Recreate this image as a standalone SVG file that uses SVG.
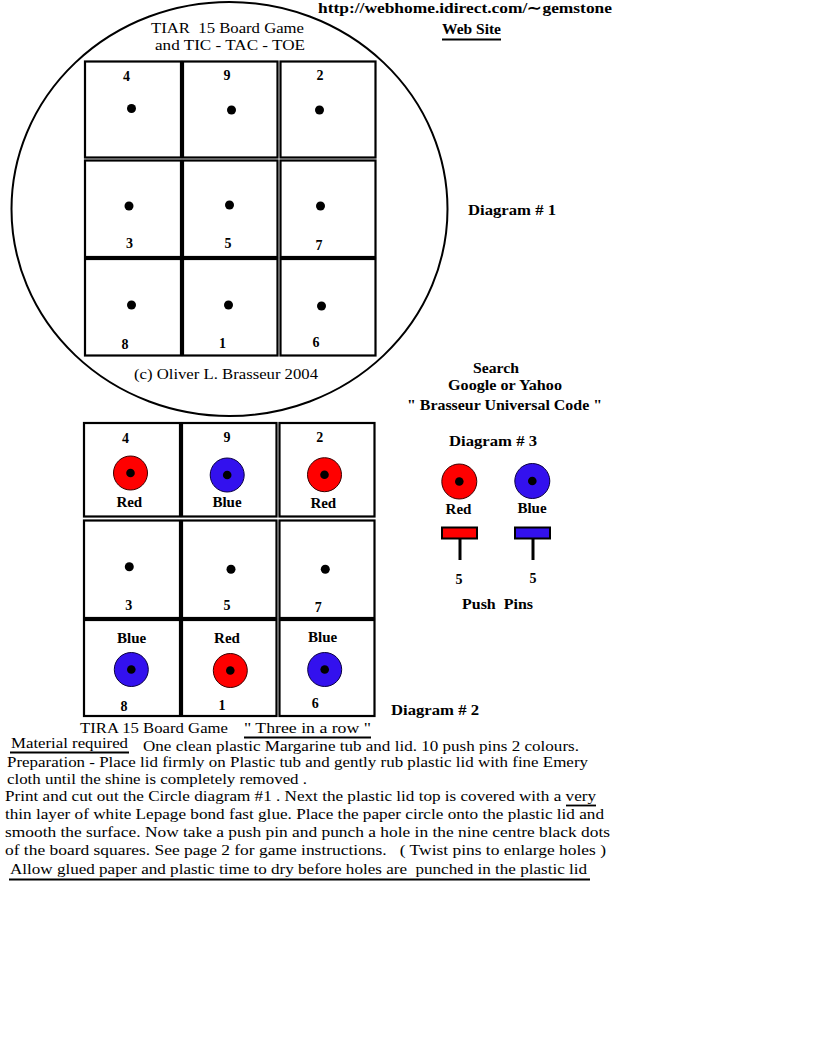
<svg xmlns="http://www.w3.org/2000/svg" width="816" height="1056" viewBox="0 0 816 1056">
<style>
text{font-family:"Liberation Serif","Times New Roman",serif;fill:#000;white-space:pre}
.t{font-size:15px}
.b{font-size:15px;font-weight:bold}
.n{font-size:14px;font-weight:bold;text-anchor:middle}
.lab{font-size:15px;font-weight:bold;text-anchor:middle}
.cell{fill:none;stroke:#000;stroke-width:2.2}
.dot{fill:#000}
.red{fill:#ff0000;stroke:#3a0000;stroke-width:1}
.blue{fill:#3311ee;stroke:#0a0040;stroke-width:1}
.ul{stroke:#000;stroke-width:1.8}
</style>
<rect width="816" height="1056" fill="#fff"/>

<g id="header">
<text class="b" x="318" y="13" textLength="294" lengthAdjust="spacingAndGlyphs">http://webhome.idirect.com/∼gemstone</text>
<text class="b" x="442" y="34" textLength="59" lengthAdjust="spacingAndGlyphs">Web Site</text>
<line class="ul" x1="442" y1="39.5" x2="501" y2="39.5"/>
</g>

<g id="diagram1">
<ellipse cx="229.5" cy="209" rx="218" ry="207" fill="none" stroke="#000" stroke-width="2"/>
<text class="t" x="151" y="33" textLength="153" lengthAdjust="spacingAndGlyphs">TIAR  15 Board Game</text>
<text class="t" x="155" y="50" textLength="150" lengthAdjust="spacingAndGlyphs">and TIC - TAC - TOE</text>
<g id="d1-cells">
<rect class="cell" x="85" y="61.5" width="96" height="96"/>
<rect class="cell" x="183" y="61.5" width="94.5" height="96"/>
<rect class="cell" x="280.5" y="61.5" width="95" height="96"/>
<rect class="cell" x="85" y="160.5" width="96" height="96.5"/>
<rect class="cell" x="183" y="160.5" width="94.5" height="96.5"/>
<rect class="cell" x="280.5" y="160.5" width="95" height="96.5"/>
<rect class="cell" x="85" y="259" width="96" height="96.5"/>
<rect class="cell" x="183" y="259" width="94.5" height="96.5"/>
<rect class="cell" x="280.5" y="259" width="95" height="96.5"/>
</g>
<g id="d1-dots">
<circle class="dot" cx="131.5" cy="108.5" r="4.5"/>
<circle class="dot" cx="231.5" cy="110" r="4.5"/>
<circle class="dot" cx="319.5" cy="110" r="4.5"/>
<circle class="dot" cx="129" cy="206" r="4.5"/>
<circle class="dot" cx="229.5" cy="205" r="4.5"/>
<circle class="dot" cx="320.5" cy="206" r="4.5"/>
<circle class="dot" cx="131.5" cy="305" r="4.5"/>
<circle class="dot" cx="228.5" cy="305" r="4.5"/>
<circle class="dot" cx="321.5" cy="306" r="4.5"/>
</g>
<g id="d1-numbers">
<text class="n" x="126.5" y="81">4</text>
<text class="n" x="227" y="80">9</text>
<text class="n" x="320" y="80">2</text>
<text class="n" x="129.5" y="248">3</text>
<text class="n" x="228" y="247.5">5</text>
<text class="n" x="319" y="250">7</text>
<text class="n" x="125" y="349">8</text>
<text class="n" x="222.5" y="348">1</text>
<text class="n" x="316" y="346.5">6</text>
</g>
<text class="t" x="134" y="379" textLength="184" lengthAdjust="spacingAndGlyphs">(c) Oliver L. Brasseur 2004</text>
</g>

<g id="label-diagram1">
<text class="b" x="468" y="215" textLength="88" lengthAdjust="spacingAndGlyphs">Diagram # 1</text>
</g>

<g id="search">
<text class="b" x="473" y="373" textLength="46" lengthAdjust="spacingAndGlyphs">Search</text>
<text class="b" x="448" y="390" textLength="114" lengthAdjust="spacingAndGlyphs">Google or Yahoo</text>
<text class="b" x="407" y="410" textLength="195" lengthAdjust="spacingAndGlyphs">" Brasseur Universal Code "</text>
</g>

<g id="diagram2">
<g id="d2-cells">
<rect class="cell" x="84" y="423" width="96" height="93.5"/>
<rect class="cell" x="182" y="423" width="94.5" height="93.5"/>
<rect class="cell" x="279.5" y="423" width="95" height="93.5"/>
<rect class="cell" x="84" y="520.5" width="96" height="97.5"/>
<rect class="cell" x="182" y="520.5" width="94.5" height="97.5"/>
<rect class="cell" x="279.5" y="520.5" width="95" height="97.5"/>
<rect class="cell" x="84" y="620" width="96" height="96"/>
<rect class="cell" x="182" y="620" width="94.5" height="96"/>
<rect class="cell" x="279.5" y="620" width="95" height="96"/>
</g>
<g id="d2-pins">
<circle class="red" cx="130.5" cy="473" r="17"/><circle class="dot" cx="130.5" cy="473" r="4.3"/>
<circle class="blue" cx="227.2" cy="475" r="17"/><circle class="dot" cx="227.2" cy="475" r="4.3"/>
<circle class="red" cx="324.5" cy="474.7" r="17"/><circle class="dot" cx="324.5" cy="474.7" r="4.3"/>
<circle class="dot" cx="129.3" cy="566.7" r="4.5"/>
<circle class="dot" cx="231" cy="569.3" r="4.5"/>
<circle class="dot" cx="325.3" cy="569.3" r="4.5"/>
<circle class="blue" cx="131.3" cy="669.5" r="17"/><circle class="dot" cx="131.3" cy="669.5" r="4.3"/>
<circle class="red" cx="230.3" cy="670.5" r="17"/><circle class="dot" cx="230.3" cy="670.5" r="4.3"/>
<circle class="blue" cx="324.7" cy="669.5" r="17"/><circle class="dot" cx="324.7" cy="669.5" r="4.3"/>
</g>
<g id="d2-text">
<text class="n" x="125.5" y="442.7">4</text>
<text class="n" x="227" y="441.7">9</text>
<text class="n" x="319.7" y="442.3">2</text>
<text class="lab" x="129.3" y="507.3">Red</text>
<text class="lab" x="227" y="506.7">Blue</text>
<text class="lab" x="323.3" y="508.3">Red</text>
<text class="n" x="128.7" y="610">3</text>
<text class="n" x="227" y="609.7">5</text>
<text class="n" x="318.3" y="611.7">7</text>
<text class="lab" x="131.7" y="643.3">Blue</text>
<text class="lab" x="227" y="643.3">Red</text>
<text class="lab" x="322.7" y="642.3">Blue</text>
<text class="n" x="124" y="710.7">8</text>
<text class="n" x="222" y="710">1</text>
<text class="n" x="315.3" y="708.3">6</text>
</g>
</g>

<g id="label-diagram2">
<text class="b" x="391" y="715" textLength="88" lengthAdjust="spacingAndGlyphs">Diagram # 2</text>
</g>

<g id="diagram3">
<text class="b" x="449" y="446" textLength="88" lengthAdjust="spacingAndGlyphs">Diagram # 3</text>
<circle class="red" cx="459.3" cy="481.5" r="17.5"/><circle class="dot" cx="459.3" cy="481.5" r="4.3"/>
<circle class="blue" cx="532.3" cy="481" r="17.5"/><circle class="dot" cx="532.3" cy="481" r="4.3"/>
<text class="lab" x="458.5" y="514">Red</text>
<text class="lab" x="532" y="513">Blue</text>
<rect x="442" y="527.5" width="35" height="11" fill="#ff0000" stroke="#000" stroke-width="2"/>
<rect x="515" y="527.5" width="35" height="11" fill="#3311ee" stroke="#000" stroke-width="2"/>
<line x1="460" y1="539" x2="460" y2="560" stroke="#000" stroke-width="3"/>
<line x1="533" y1="539" x2="533" y2="560" stroke="#000" stroke-width="3"/>
<text class="n" x="459" y="584">5</text>
<text class="n" x="533" y="583">5</text>
<text class="b" x="462" y="609" textLength="71" lengthAdjust="spacingAndGlyphs">Push  Pins</text>
</g>

<g id="instructions">
<text class="t" x="80" y="733" textLength="148" lengthAdjust="spacingAndGlyphs">TIRA 15 Board Game</text>
<text class="t" x="244" y="733" textLength="127" lengthAdjust="spacingAndGlyphs">" Three in a row "</text>
<line class="ul" x1="244" y1="737.5" x2="371" y2="737.5"/>
<text class="t" x="11" y="748" textLength="117" lengthAdjust="spacingAndGlyphs">Material required</text>
<line class="ul" x1="10" y1="752.5" x2="129" y2="752.5"/>
<text class="t" x="143" y="751" textLength="436" lengthAdjust="spacingAndGlyphs">One clean plastic Margarine tub and lid. 10 push pins 2 colours.</text>
<text class="t" x="7" y="767" textLength="581" lengthAdjust="spacingAndGlyphs">Preparation - Place lid firmly on Plastic tub and gently rub plastic lid with fine Emery</text>
<text class="t" x="7" y="784" textLength="300" lengthAdjust="spacingAndGlyphs">cloth until the shine is completely removed .</text>
<text class="t" x="5" y="801" textLength="591" lengthAdjust="spacingAndGlyphs">Print and cut out the Circle diagram #1 . Next the plastic lid top is covered with a very</text>
<line class="ul" x1="566" y1="805.5" x2="596" y2="805.5"/>
<text class="t" x="5" y="819" textLength="599" lengthAdjust="spacingAndGlyphs">thin layer of white Lepage bond fast glue. Place the paper circle onto the plastic lid and</text>
<text class="t" x="5" y="837" textLength="605" lengthAdjust="spacingAndGlyphs">smooth the surface. Now take a push pin and punch a hole in the nine centre black dots</text>
<text class="t" x="5" y="855" textLength="601" lengthAdjust="spacingAndGlyphs">of the board squares. See page 2 for game instructions.   ( Twist pins to enlarge holes )</text>
<text class="t" x="10" y="874" textLength="577" lengthAdjust="spacingAndGlyphs">Allow glued paper and plastic time to dry before holes are  punched in the plastic lid</text>
<line class="ul" x1="9" y1="879.5" x2="590" y2="879.5"/>
</g>
</svg>
